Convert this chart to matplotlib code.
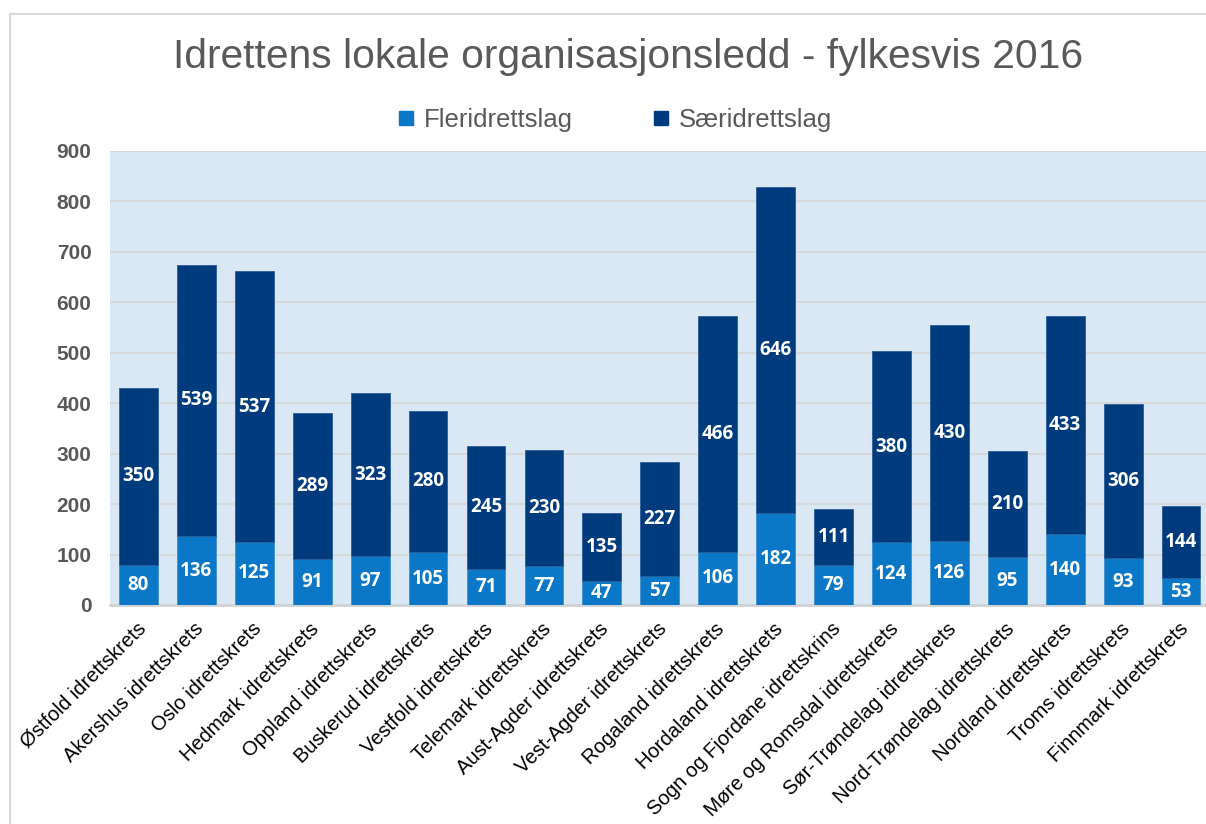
import matplotlib
matplotlib.use("Agg")
import matplotlib.pyplot as plt
import matplotlib.transforms as mtransforms
from matplotlib.patches import Rectangle
from matplotlib.lines import Line2D
import numpy as np

categories = ["Østfold idrettskrets", "Akershus idrettskrets", "Oslo idrettskrets",
              "Hedmark idrettskrets", "Oppland idrettskrets", "Buskerud idrettskrets",
              "Vestfold idrettskrets", "Telemark idrettskrets", "Aust-Agder idrettskrets",
              "Vest-Agder idrettskrets", "Rogaland idrettskrets", "Hordaland idrettskrets",
              "Sogn og Fjordane idrettskrins", "Møre og Romsdal idrettskrets",
              "Sør-Trøndelag idrettskrets", "Nord-Trøndelag idrettskrets",
              "Nordland idrettskrets", "Troms idrettskrets", "Finnmark idrettskrets"]
fleridrettslag = [80, 136, 125, 91, 97, 105, 71, 77, 47, 57, 106, 182, 79, 124, 126, 95, 140, 93, 53]
saeridrettslag = [350, 539, 537, 289, 323, 280, 245, 230, 135, 227, 466, 646, 111, 380, 430, 210, 433, 306, 144]
series_names = ["Fleridrettslag", "Særidrettslag"]
yticks = [0, 100, 200, 300, 400, 500, 600, 700, 800, 900]
title = "Idrettens lokale organisasjonsledd - fylkesvis 2016"

C_FLER = "#0A78C6"
C_SAER = "#003C7D"
BG = "#DAE8F5"
GRID = "#D6D9DC"
TXT = "#595959"
FONT = "Liberation Sans"
LBLFONT = "Open Sans"

W, H = 1206, 824
fig = plt.figure(figsize=(W / 100, H / 100), dpi=100)

# outer chart border (clipped chart)
fig.patches.append(Rectangle((10 / W, -0.2), 2.0, 1 - 14 / H + 0.2, transform=fig.transFigure,
                             fill=False, edgecolor="#D9D9D9", linewidth=1.5))

left_px, right_px, top_px, bot_px = 109.5, 1210.0, 151.0, 605.0
ax = fig.add_axes([left_px / W, 1 - bot_px / H, (right_px - left_px) / W, (bot_px - top_px) / H])
ax.set_facecolor(BG)

x = np.arange(len(categories))
fler = np.array(fleridrettslag)
saer = np.array(saeridrettslag)
bw = 0.67
ax.bar(x, fler, width=bw, color=C_FLER, edgecolor="#3F8FD0", linewidth=0.6, zorder=3)
ax.bar(x, saer, width=bw, bottom=fler, color=C_SAER, edgecolor="#2A5E98", linewidth=0.6, zorder=3)

for xi, f, s in zip(x, fler, saer):
    ax.text(xi, f / 2, str(f), ha="center", va="center", color="white",
            fontsize=13.5, fontweight="bold", family=LBLFONT, zorder=4)
    ax.text(xi, f + s / 2, str(s), ha="center", va="center", color="white",
            fontsize=13.5, fontweight="bold", family=LBLFONT, zorder=4)

ax.set_xlim(-0.5, len(categories) - 0.5)
ax.set_ylim(0, 900)
ax.set_yticks(yticks)
ax.set_yticklabels([str(v) for v in yticks], fontsize=15, fontweight="bold", color=TXT, family=FONT)
ax.tick_params(axis="y", length=0, pad=13)
ax.yaxis.grid(True, color=GRID, linewidth=1.5, zorder=1)
ax.set_axisbelow(True)

ax.set_xticks(x)
ax.set_xticklabels(categories, rotation=45, ha="right", va="center", rotation_mode="anchor",
                   fontsize=14.5, color="black", family=FONT)
ax.tick_params(axis="x", length=0, pad=15)
offset = mtransforms.ScaledTranslation(3 / 72, 0, fig.dpi_scale_trans)
for lab in ax.get_xticklabels():
    lab.set_transform(lab.get_transform() + offset)

for sp in ["left", "right", "top"]:
    ax.spines[sp].set_visible(False)
ax.spines["bottom"].set_color("#D0D3D6")
ax.spines["bottom"].set_linewidth(2)

fig.text(628 / W, 1 - 57 / H, title, ha="center", va="center", fontsize=29.3,
         color=TXT, family=FONT)

handles = [Line2D([], [], marker="s", linestyle="none", markersize=9.5, color=C_FLER),
           Line2D([], [], marker="s", linestyle="none", markersize=9.5, color=C_SAER)]
leg = fig.legend(handles, series_names, loc="center", bbox_to_anchor=(614 / W, 1 - 120 / H),
                 ncol=2, frameon=False, prop={"family": FONT, "size": 18.5},
                 handlelength=0.8, handletextpad=0.3, columnspacing=3.0)
for t in leg.get_texts():
    t.set_color(TXT)

fig.savefig("out.png", dpi=100)
